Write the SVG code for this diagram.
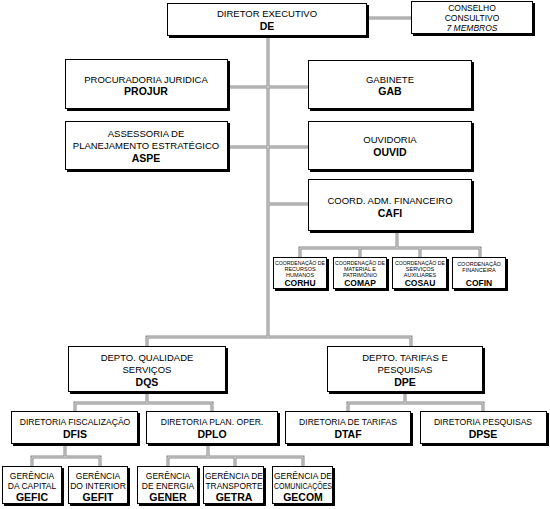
<svg xmlns="http://www.w3.org/2000/svg" width="550" height="509" viewBox="0 0 550 509">
<style>
.sh{fill:#000}
.bx{fill:#fff;stroke:#000;stroke-width:1}
text{font-family:"Liberation Sans",Arial,sans-serif;fill:#000;text-anchor:middle}
.t{font-size:9.5px}
.t2{font-size:8.6px}
.b{font-size:10.5px;font-weight:bold}
.s{font-size:8.5px}
.i{font-size:8.5px;font-style:italic}
.xs{font-size:5.5px}
.xb{font-size:8.5px;font-weight:bold}
.g{font-size:8.5px}
.gb{font-size:10.5px;font-weight:bold}
.c1{fill:none;stroke:#8a8a8a;stroke-width:3}
.c2{fill:none;stroke:#dcdcdc;stroke-width:1}
</style>
<defs>
<path id="cp" d="M268,36V337 M367,18H411 M228,87H308 M228,147H308 M268,204H308 M397,232V248 M300,257V248H480V257 M360,248V257 M420,248V257 M147,346V337H411V346 M147,392V403 M75,411V403H212V411 M405,392V403 M348,411V403H483V411 M65,444V457 M32,467V457H100V467 M208,444V457 M168,467V457H303V467 M235,457V467"/>
</defs>
<g id="connectors">
<use href="#cp" class="c1"/>
<use href="#cp" class="c2"/>
</g>
<g id="DE">
<rect class="sh" x="169" y="5" width="200" height="33"/>
<rect class="bx" x="167.5" y="3.5" width="199" height="32"/>
<text class="t" x="267" y="17">DIRETOR EXECUTIVO</text>
<text class="b" x="267" y="30">DE</text>
</g>
<g id="CONSELHO">
<rect class="sh" x="413" y="3" width="122" height="33"/>
<rect class="bx" x="411.5" y="1.5" width="121" height="32"/>
<text class="s" x="472" y="10.5">CONSELHO</text>
<text class="s" x="472" y="20.5">CONSULTIVO</text>
<text class="i" x="472" y="31">7 MEMBROS</text>
</g>
<g id="PROJUR">
<rect class="sh" x="67" y="61" width="163" height="50"/>
<rect class="bx" x="65.5" y="59.5" width="162" height="49"/>
<text class="t" x="146" y="83">PROCURADORIA JURIDICA</text>
<text class="b" x="146" y="95">PROJUR</text>
</g>
<g id="GAB">
<rect class="sh" x="310" y="62" width="164" height="49"/>
<rect class="bx" x="308.5" y="60.5" width="163" height="48"/>
<text class="t" x="390" y="83">GABINETE</text>
<text class="b" x="390" y="95">GAB</text>
</g>
<g id="ASPE">
<rect class="sh" x="67" y="123" width="163" height="49"/>
<rect class="bx" x="65.5" y="121.5" width="162" height="48"/>
<text class="t" x="146" y="137">ASSESSORIA DE</text>
<text class="t" x="146" y="149">PLANEJAMENTO ESTRATÉGICO</text>
<text class="b" x="146" y="162">ASPE</text>
</g>
<g id="OUVID">
<rect class="sh" x="310" y="123" width="164" height="49"/>
<rect class="bx" x="308.5" y="121.5" width="163" height="48"/>
<text class="t" x="390" y="143">OUVIDORIA</text>
<text class="b" x="390" y="156">OUVID</text>
</g>
<g id="CAFI">
<rect class="sh" x="310" y="181" width="164" height="52"/>
<rect class="bx" x="308.5" y="179.5" width="163" height="51"/>
<text class="t" x="390" y="203.5">COORD. ADM. FINANCEIRO</text>
<text class="b" x="390" y="216.5">CAFI</text>
</g>
<g id="CORHU">
<rect class="sh" x="275" y="259" width="54" height="32"/>
<rect class="bx" x="273.5" y="257.5" width="53" height="31"/>
<text class="xs" x="300" y="265" textLength="50" lengthAdjust="spacingAndGlyphs">COORDENAÇÃO DE</text>
<text class="xs" x="300" y="271">RECURSOS</text>
<text class="xs" x="300" y="277">HUMANOS</text>
<text class="xb" x="300" y="285.5">CORHU</text>
</g>
<g id="COMAP">
<rect class="sh" x="335" y="259" width="54" height="32"/>
<rect class="bx" x="333.5" y="257.5" width="53" height="31"/>
<text class="xs" x="360" y="265" textLength="50" lengthAdjust="spacingAndGlyphs">COORDENAÇÃO DE</text>
<text class="xs" x="360" y="271">MATERIAL E</text>
<text class="xs" x="360" y="277">PATRIMÔNIO</text>
<text class="xb" x="360" y="285.5">COMAP</text>
</g>
<g id="COSAU">
<rect class="sh" x="394" y="259" width="55" height="32"/>
<rect class="bx" x="392.5" y="257.5" width="54" height="31"/>
<text class="xs" x="420" y="265" textLength="50" lengthAdjust="spacingAndGlyphs">COORDENAÇÃO DE</text>
<text class="xs" x="420" y="271">SERVIÇOS</text>
<text class="xs" x="420" y="277">AUXILIARES</text>
<text class="xb" x="420" y="285.5">COSAU</text>
</g>
<g id="COFIN">
<rect class="sh" x="454" y="259" width="54" height="32"/>
<rect class="bx" x="452.5" y="257.5" width="53" height="31"/>
<text class="xs" x="479" y="266">COORDENAÇÃO</text>
<text class="xs" x="479" y="272">FINANCEIRA</text>
<text class="xb" x="479" y="285.5">COFIN</text>
</g>
<g id="DQS">
<rect class="sh" x="70" y="348" width="158" height="46"/>
<rect class="bx" x="68.5" y="346.5" width="157" height="45"/>
<text class="t" x="147" y="361">DEPTO. QUALIDADE</text>
<text class="t" x="147" y="373">SERVIÇOS</text>
<text class="b" x="147" y="386">DQS</text>
</g>
<g id="DPE">
<rect class="sh" x="329" y="348" width="156" height="46"/>
<rect class="bx" x="327.5" y="346.5" width="155" height="45"/>
<text class="t" x="405" y="361">DEPTO. TARIFAS E</text>
<text class="t" x="405" y="373">PESQUISAS</text>
<text class="b" x="405" y="386">DPE</text>
</g>
<g id="DFIS">
<rect class="sh" x="13" y="413" width="127" height="33"/>
<rect class="bx" x="11.5" y="411.5" width="126" height="32"/>
<text class="t2" x="75" y="424.5">DIRETORIA FISCALIZAÇÃO</text>
<text class="b" x="75" y="438">DFIS</text>
</g>
<g id="DPLO">
<rect class="sh" x="148" y="413" width="132" height="33"/>
<rect class="bx" x="146.5" y="411.5" width="131" height="32"/>
<text class="t2" x="212" y="424.5">DIRETORIA PLAN. OPER.</text>
<text class="b" x="212" y="438">DPLO</text>
</g>
<g id="DTAF">
<rect class="sh" x="287" y="413" width="126" height="33"/>
<rect class="bx" x="285.5" y="411.5" width="125" height="32"/>
<text class="t2" x="348" y="424.5">DIRETORIA DE TARIFAS</text>
<text class="b" x="348" y="438">DTAF</text>
</g>
<g id="DPSE">
<rect class="sh" x="422" y="413" width="127" height="33"/>
<rect class="bx" x="420.5" y="411.5" width="126" height="32"/>
<text class="t2" x="483" y="424.5">DIRETORIA PESQUISAS</text>
<text class="b" x="483" y="438">DPSE</text>
</g>
<g id="GEFIC">
<rect class="sh" x="4" y="468" width="60" height="38"/>
<rect class="bx" x="2.5" y="466.5" width="59" height="37"/>
<text class="g" x="32" y="478.5">GERÊNCIA</text>
<text class="g" x="32" y="488.5">DA CAPITAL</text>
<text class="gb" x="32" y="500.5">GEFIC</text>
</g>
<g id="GEFIT">
<rect class="sh" x="70" y="468" width="60" height="38"/>
<rect class="bx" x="68.5" y="466.5" width="59" height="37"/>
<text class="g" x="98" y="478.5">GERÊNCIA</text>
<text class="g" x="98" y="488.5">DO INTERIOR</text>
<text class="gb" x="98" y="500.5">GEFIT</text>
</g>
<g id="GENER">
<rect class="sh" x="139" y="468" width="61" height="38"/>
<rect class="bx" x="137.5" y="466.5" width="60" height="37"/>
<text class="g" x="168" y="478.5">GERÊNCIA</text>
<text class="g" x="168" y="488.5">DE ENERGIA</text>
<text class="gb" x="168" y="500.5">GENER</text>
</g>
<g id="GETRA">
<rect class="sh" x="205" y="468" width="61" height="38"/>
<rect class="bx" x="203.5" y="466.5" width="60" height="37"/>
<text class="g" x="234" y="478.5">GERÊNCIA DE</text>
<text class="g" x="234" y="488.5" textLength="57" lengthAdjust="spacingAndGlyphs">TRANSPORTE</text>
<text class="gb" x="234" y="500.5">GETRA</text>
</g>
<g id="GECOM">
<rect class="sh" x="274" y="468" width="61" height="38"/>
<rect class="bx" x="272.5" y="466.5" width="60" height="37"/>
<text class="g" x="303" y="478.5">GERÊNCIA DE</text>
<text class="g" x="303" y="488.5" textLength="58" lengthAdjust="spacingAndGlyphs">COMUNICAÇÕES</text>
<text class="gb" x="303" y="500.5">GECOM</text>
</g>
</svg>
